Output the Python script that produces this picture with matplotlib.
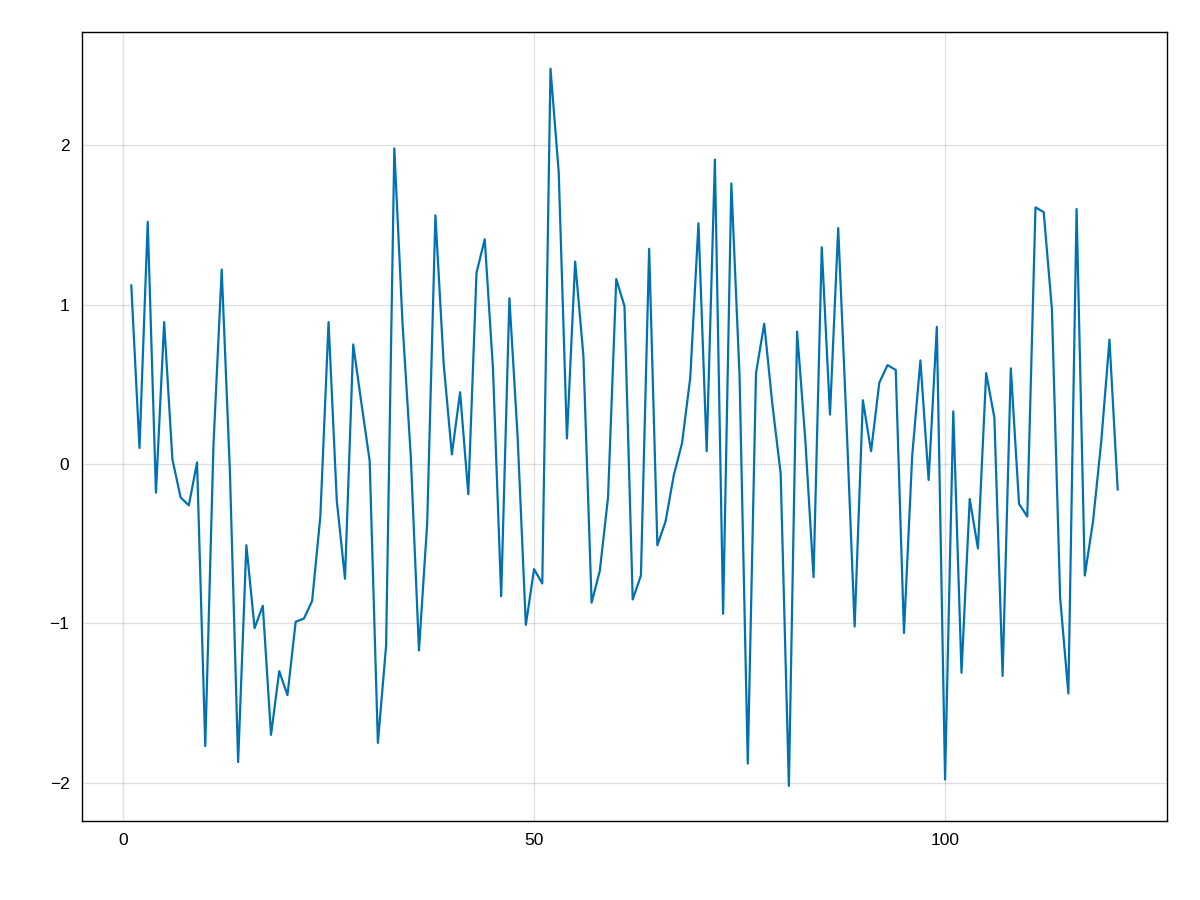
import matplotlib
matplotlib.use("Agg")
import matplotlib.pyplot as plt
import numpy as np

x = list(range(1, 122))
y = [1.12, 0.10, 1.52, -0.18, 0.89, 0.03, -0.21, -0.26, 0.01, -1.77,
     0.12, 1.22, -0.05, -1.87, -0.51, -1.03, -0.89, -1.70, -1.30, -1.45,
     -0.99, -0.97, -0.86, -0.33, 0.89, -0.23, -0.72, 0.75, 0.38, 0.02,
     -1.75, -1.14, 1.98, 0.88, 0.05, -1.17, -0.37, 1.56, 0.63, 0.06,
     0.45, -0.19, 1.20, 1.41, 0.60, -0.83, 1.04, 0.17, -1.01, -0.66,
     -0.75, 2.48, 1.83, 0.16, 1.27, 0.68, -0.87, -0.67, -0.21, 1.16,
     0.99, -0.85, -0.70, 1.35, -0.51, -0.36, -0.07, 0.13, 0.54, 1.51,
     0.08, 1.91, -0.94, 1.76, 0.55, -1.88, 0.57, 0.88, 0.37, -0.06,
     -2.02, 0.83, 0.15, -0.71, 1.36, 0.31, 1.48, 0.27, -1.02, 0.40,
     0.08, 0.51, 0.62, 0.59, -1.06, 0.05, 0.65, -0.10, 0.86, -1.98,
     0.33, -1.31, -0.22, -0.53, 0.57, 0.29, -1.33, 0.60, -0.25, -0.33,
     1.61, 1.58, 0.97, -0.84, -1.44, 1.60, -0.70, -0.36, 0.14, 0.78,
     -0.16]
xticks = [0, 50, 100]
yticks = [-2, -1, 0, 1, 2]

plt.rcParams['font.family'] = ['Liberation Sans', 'DejaVu Sans']
fig = plt.figure(figsize=(12, 9), dpi=100)
ax = fig.add_axes([0.0683, 0.0878, 0.9042, 0.8766])
ax.plot(x, y, color='#0072B2', linewidth=1.6)
ax.set_xlim(-5.0, 127.0)
ax.set_ylim(-2.24, 2.71)
ax.set_xticks(xticks)
ax.set_yticks(yticks)
ax.set_yticklabels([str(v).replace('-', '\u2212') for v in yticks])
ax.grid(True, color='black', alpha=0.12, linewidth=1)
ax.set_axisbelow(True)
ax.tick_params(length=0, labelsize=12.5, pad=9)
for s in ax.spines.values():
    s.set_linewidth(1.0)
fig.savefig("out.png", dpi=100)
